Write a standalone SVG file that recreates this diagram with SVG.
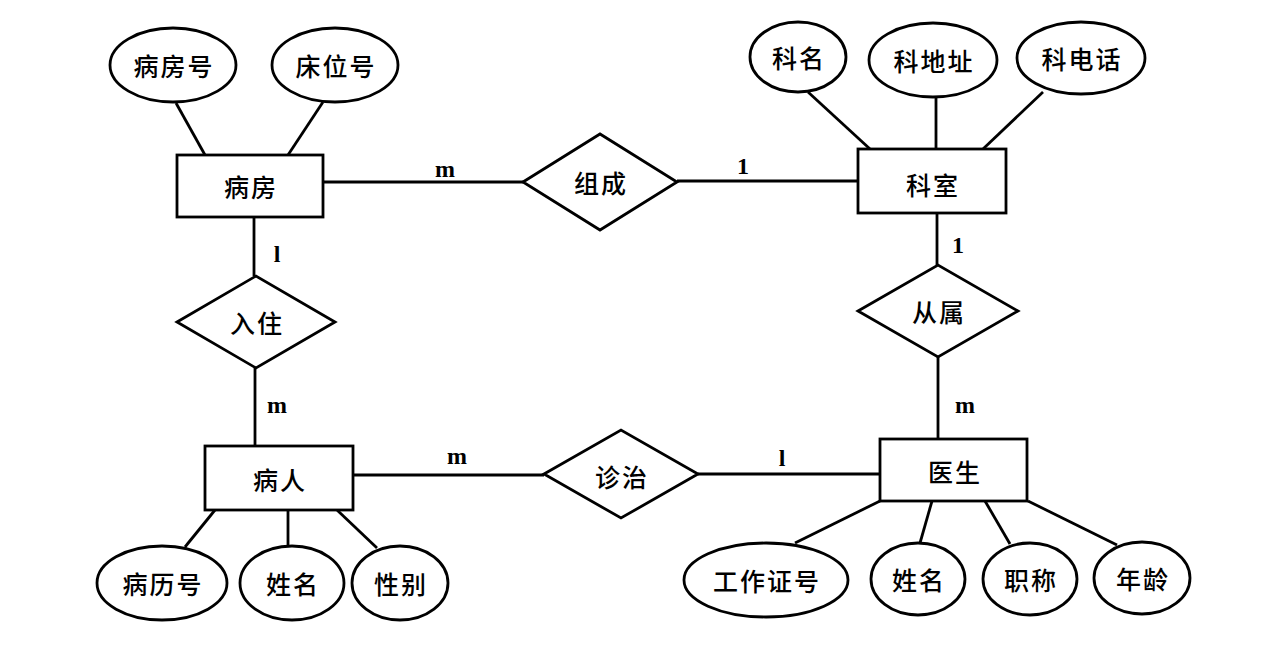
<svg xmlns="http://www.w3.org/2000/svg" width="1270" height="651" viewBox="0 0 1270 651">
<style>
.s{fill:#fff;stroke:#000;stroke-width:2.8}
.l{stroke:#000;stroke-width:2.8;fill:none}
.t{font-family:"Noto Sans CJK SC","Noto Sans CJK JP",sans-serif;font-size:25px;font-weight:500;letter-spacing:2px;text-anchor:middle;dominant-baseline:central;fill:#000}
.c{font-family:"Liberation Serif",serif;font-weight:bold;font-size:24px;text-anchor:middle;fill:#000}
</style>
<rect width="1270" height="651" fill="#fff"/>
<g id="connectors">
<line class="l" x1="176" y1="103" x2="205" y2="155"/>
<line class="l" x1="323" y1="102" x2="288" y2="155"/>
<line class="l" x1="323" y1="182" x2="523" y2="182"/>
<line class="l" x1="677" y1="181" x2="858" y2="181"/>
<line class="l" x1="808" y1="92" x2="870" y2="149"/>
<line class="l" x1="936" y1="97" x2="936" y2="149"/>
<line class="l" x1="1043" y1="92" x2="983" y2="149"/>
<line class="l" x1="937" y1="213" x2="937" y2="265"/>
<line class="l" x1="938" y1="357" x2="938" y2="439"/>
<line class="l" x1="254" y1="217" x2="254" y2="276"/>
<line class="l" x1="255" y1="368" x2="255" y2="446"/>
<line class="l" x1="353" y1="475" x2="544" y2="475"/>
<line class="l" x1="698" y1="474" x2="880" y2="474"/>
<line class="l" x1="215" y1="510" x2="185" y2="547"/>
<line class="l" x1="288" y1="510" x2="288" y2="547"/>
<line class="l" x1="337" y1="510" x2="377" y2="548"/>
<line class="l" x1="880" y1="501" x2="795" y2="543"/>
<line class="l" x1="932" y1="501" x2="920" y2="543"/>
<line class="l" x1="985" y1="501" x2="1010" y2="544"/>
<line class="l" x1="1028" y1="501" x2="1117" y2="545"/>
<text class="c" x="445" y="177">m</text>
<text class="c" x="743" y="174">1</text>
<text class="c" x="277" y="262">l</text>
<text class="c" x="277" y="413">m</text>
<text class="c" x="958" y="253">1</text>
<text class="c" x="965" y="413">m</text>
<text class="c" x="457" y="464">m</text>
<text class="c" x="782" y="466">l</text>
</g>
<g id="bingfanghao"><ellipse class="s" cx="173" cy="65" rx="63" ry="37"/><text class="t" x="174" y="65">病房号</text></g>
<g id="chuangweihao"><ellipse class="s" cx="335" cy="65" rx="63" ry="37"/><text class="t" x="336" y="65">床位号</text></g>
<g id="bingfang"><rect class="s" x="177" y="155" width="146" height="62"/><text class="t" x="251" y="186">病房</text></g>
<g id="zucheng"><polygon class="s" points="523,182 600,134 677,182 600,230"/><text class="t" x="601" y="182">组成</text></g>
<g id="keming"><ellipse class="s" cx="798" cy="57" rx="48" ry="35"/><text class="t" x="799" y="57">科名</text></g>
<g id="kedizhi"><ellipse class="s" cx="933" cy="60" rx="64" ry="37"/><text class="t" x="934" y="60">科地址</text></g>
<g id="kedianhua"><ellipse class="s" cx="1081" cy="58" rx="64" ry="36"/><text class="t" x="1082" y="58">科电话</text></g>
<g id="keshi"><rect class="s" x="858" y="149" width="148" height="64"/><text class="t" x="933" y="184">科室</text></g>
<g id="ruzhu"><polygon class="s" points="177,322 256,276 335,322 256,368"/><text class="t" x="257" y="322">入住</text></g>
<g id="congshu"><polygon class="s" points="858,311 938,265 1018,311 938,357"/><text class="t" x="939" y="311">从属</text></g>
<g id="bingren"><rect class="s" x="205" y="446" width="148" height="64"/><text class="t" x="280" y="479">病人</text></g>
<g id="zhenzhi"><polygon class="s" points="544,474 621,430 698,474 621,518"/><text class="t" x="622" y="476">诊治</text></g>
<g id="yisheng"><rect class="s" x="880" y="439" width="147" height="62"/><text class="t" x="955" y="471">医生</text></g>
<g id="binglihao"><ellipse class="s" cx="162" cy="583" rx="65" ry="37"/><text class="t" x="163" y="583">病历号</text></g>
<g id="xingming1"><ellipse class="s" cx="292" cy="583" rx="52" ry="37"/><text class="t" x="293" y="583">姓名</text></g>
<g id="xingbie"><ellipse class="s" cx="400" cy="583" rx="48" ry="37"/><text class="t" x="401" y="583">性别</text></g>
<g id="gongzuozhenghao"><ellipse class="s" cx="766" cy="580" rx="82" ry="37"/><text class="t" x="767" y="580">工作证号</text></g>
<g id="xingming2"><ellipse class="s" cx="918" cy="579" rx="47" ry="36"/><text class="t" x="919" y="579">姓名</text></g>
<g id="zhicheng"><ellipse class="s" cx="1030" cy="579" rx="47" ry="36"/><text class="t" x="1031" y="579">职称</text></g>
<g id="nianling"><ellipse class="s" cx="1142" cy="578" rx="48" ry="36"/><text class="t" x="1143" y="578">年龄</text></g>
</svg>
